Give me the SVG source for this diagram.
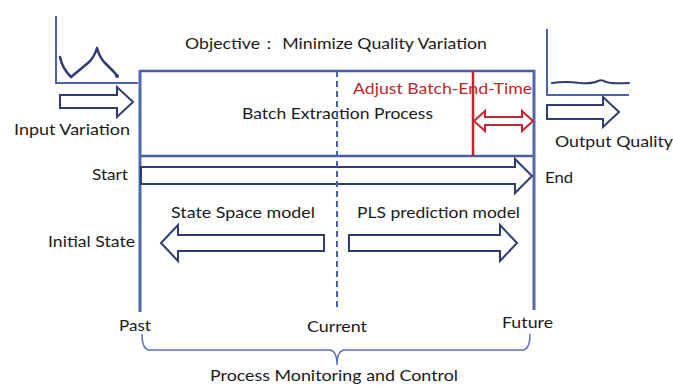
<svg xmlns="http://www.w3.org/2000/svg" width="673" height="385" viewBox="0 0 673 385">
<style>
  text { font-family: Lato, "Noto Sans", "Liberation Sans", sans-serif; font-size: 16px; fill: #1a1a1a; }
  .red { fill: #c0262d; }
  .frame { stroke: #4a5ca4; stroke-width: 2.5; fill: none; }
  .axis { stroke: #4f63ad; stroke-width: 2; fill: none; }
  .curve { stroke: #2f3b72; stroke-width: 2.5; fill: none; stroke-linecap: round; stroke-linejoin: round; }
  .barrow { fill: #ffffff; stroke: #2f3c73; stroke-width: 2; stroke-linejoin: miter; }
  .rarrow { fill: #ffffff; stroke: #c0262d; stroke-width: 2; }
</style>
<rect width="673" height="385" fill="#ffffff"/>

<g id="objective">
  <text x="185" y="49" textLength="302" lengthAdjust="spacingAndGlyphs">Objective：  Minimize Quality Variation</text>
</g>

<g id="input-chart">
  <polyline class="axis" points="56,16 56,83 138,83"/>
  <path class="curve" d="M60,57 Q62,68 71,77 L88,63 Q94,58 97,48 Q99,56 104,62 L112,70 Q116,74 117,76"/>
  <circle cx="117" cy="76" r="2" fill="#2f3b72"/>
</g>

<g id="input-variation">
  <polygon class="barrow" points="60,95 117,95 117,87 133,102 117,117 117,108 60,108"/>
  <text x="14" y="135" textLength="116" lengthAdjust="spacingAndGlyphs">Input Variation</text>
</g>

<g id="output-chart">
  <polyline class="axis" points="547,29 547,95 629,95"/>
  <path class="curve" style="stroke-width:2" d="M552,83 Q565,81 580,83 Q592,84 598,81 Q602,79 606,82 Q612,84 629,83"/>
</g>

<g id="output-quality">
  <polygon class="barrow" points="547,105 603,105 603,97 619,112 603,127 603,119 547,119"/>
  <text x="555" y="147" textLength="118" lengthAdjust="spacingAndGlyphs">Output Quality</text>
</g>

<g id="batch-process">
  <line class="frame" x1="140" y1="71" x2="535" y2="71"/>
  <line class="frame" x1="140" y1="156" x2="535" y2="156"/>
  <line class="frame" x1="140" y1="70" x2="140" y2="312" style="stroke-width:3;stroke:#5066b0"/>
  <line class="frame" x1="534" y1="70" x2="534" y2="310" style="stroke-width:3;stroke:#5066b0"/>
  <text x="242" y="119" textLength="191" lengthAdjust="spacingAndGlyphs">Batch Extraction Process</text>
</g>

<g id="adjust-end-time">
  <line x1="473" y1="71" x2="473" y2="156" stroke="#c0262d" stroke-width="2.5"/>
  <polygon class="rarrow" points="474,121 485,111 485,117 522,117 522,111 533,121 522,131 522,125 485,125 485,131"/>
  <text class="red" x="353" y="94" textLength="179" lengthAdjust="spacingAndGlyphs">Adjust Batch-End-Time</text>
</g>

<g id="timeline">
  <polygon class="barrow" points="141,167 515,167 515,159 532,176 515,193 515,184 141,184"/>
  <text x="92" y="180" textLength="36" lengthAdjust="spacingAndGlyphs">Start</text>
  <text x="545" y="183" textLength="28" lengthAdjust="spacingAndGlyphs">End</text>
</g>

<g id="state-space">
  <polygon class="barrow" points="324,235 178,235 178,225 161,243 178,261 178,251 324,251"/>
  <text x="171" y="218" textLength="144" lengthAdjust="spacingAndGlyphs">State Space model</text>
  <text x="48" y="247" textLength="87" lengthAdjust="spacingAndGlyphs">Initial State</text>
</g>

<g id="pls-prediction">
  <polygon class="barrow" points="349,235 500,235 500,225 517,243 500,261 500,251 349,251"/>
  <text x="357" y="218" textLength="163" lengthAdjust="spacingAndGlyphs">PLS prediction model</text>
</g>

<g id="connectors">
  <line x1="337" y1="71" x2="337" y2="311" stroke="#4a60aa" stroke-width="2" stroke-dasharray="6,4"/>
  <path d="M142,334 Q142,350 150,350 L329,350 Q337,350 337,365 Q337,350 345,350 L522,350 Q530,350 530,334" fill="none" stroke="#5a6eb5" stroke-width="1.5"/>
</g>

<g id="time-labels">
  <text x="119" y="331" textLength="32" lengthAdjust="spacingAndGlyphs">Past</text>
  <text x="307" y="332" textLength="60" lengthAdjust="spacingAndGlyphs">Current</text>
  <text x="502" y="328" textLength="51" lengthAdjust="spacingAndGlyphs">Future</text>
  <text x="210" y="381" textLength="248" lengthAdjust="spacingAndGlyphs">Process Monitoring and Control</text>
</g>
</svg>
